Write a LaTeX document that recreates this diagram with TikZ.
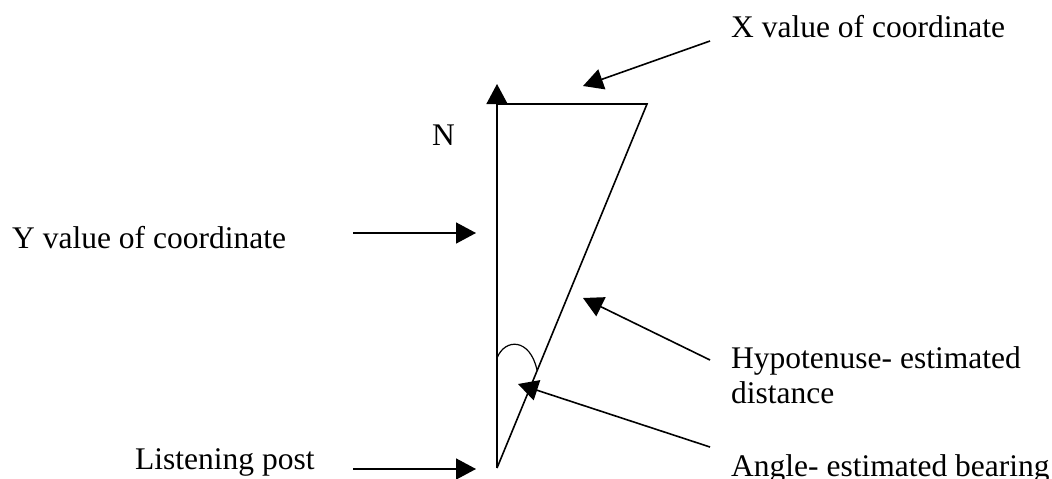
\documentclass[tikz,border=0pt]{standalone}
\usepackage{fontspec}
\setmainfont{Liberation Serif}
\usetikzlibrary{arrows.meta}
\begin{document}
\begin{tikzpicture}[x=1pt,y=-1pt,
  ln/.style={line width=1.6pt,line cap=butt},
  ptr/.style={ln,-{Triangle[length=20pt,width=21pt]}},
  lbl/.style={anchor=base west,inner sep=0pt,font=\fontsize{31.5}{35}\selectfont}]
\useasboundingbox (0,0) rectangle (1052,479);
% triangle
\coordinate (lp) at (497,468);
\coordinate (ntop) at (497,84);
\coordinate (tl) at (497,104);
\coordinate (tr) at (647,104);
\draw[ptr] (lp) -- (ntop);
\draw[ln] (tl) -- (tr) -- (lp);
% angle arc
\coordinate (a1) at (497,358);
\coordinate (a2) at (537,370);
\draw[line width=1.2pt] (a1) .. controls (505,338) and (530,338) .. (a2);
% labels
\node[lbl] (xl) at (731,37) {X value of coordinate};
\node[lbl] (nl) at (432,145) {N};
\node[lbl] (yl) at (12,248) {Y value of coordinate};
\node[lbl] (ll) at (135,469) {Listening post};
\node[lbl,align=left] (hl) at (731,368) {Hypotenuse- estimated};
\node[lbl] (hl2) at (731,403) {distance};
\node[lbl] (al) at (731,476) {Angle- estimated bearing};
% arrow endpoints
\coordinate (xs) at (710,41);   \coordinate (xe) at (583,86);
\coordinate (ys) at (353,233);  \coordinate (ye) at (476,233);
\coordinate (ls) at (353,469);  \coordinate (le) at (476,469);
\coordinate (hs) at (710,360);  \coordinate (he) at (583,298);
\coordinate (as) at (710,447);  \coordinate (ae) at (518,384);
\draw[ptr] (xs) -- (xe);
\draw[ptr] (ys) -- (ye);
\draw[ptr] (ls) -- (le);
\draw[ptr] (hs) -- (he);
\draw[ptr] (as) -- (ae);
\end{tikzpicture}
\end{document}
